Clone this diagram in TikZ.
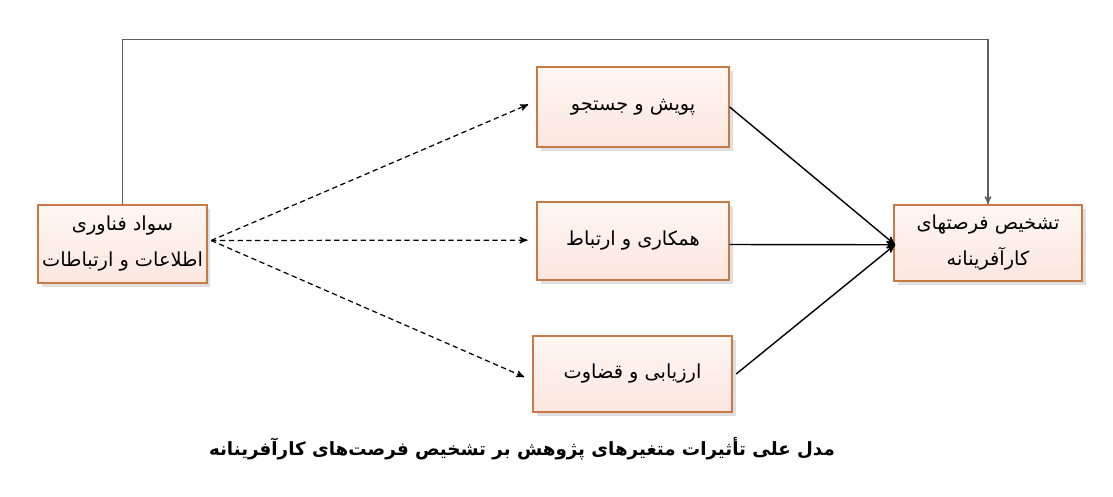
\documentclass[tikz,border=0pt]{standalone}
\usepackage{fontspec}
\setmainfont{DejaVu Sans}
\newfontfamily\arabicfont[Script=Arabic]{DejaVu Sans}
\TeXXeTstate=1
\usetikzlibrary{arrows}
\usetikzlibrary{shadows}
\definecolor{boxline}{HTML}{C77A45}
\definecolor{boxtop}{HTML}{FFF7F3}
\definecolor{boxbot}{HTML}{FCE6DF}
\definecolor{routeline}{HTML}{606060}

\begin{document}
\begin{tikzpicture}[x=0.02cm,y=-0.02cm,
 box/.style={draw=boxline, line width=0.8pt, top color=boxtop, bottom color=boxbot,
  drop shadow={shadow xshift=2pt, shadow yshift=-2pt, fill=black!25, opacity=.5},
  font=\arabicfont\fontsize{11}{20.5}\selectfont, align=center, inner sep=1pt},
 dashlink/.style={densely dashed, line width=0.7pt, ->, >=stealth'},
 solidlink/.style={line width=0.8pt, ->, >=stealth'}]
\useasboundingbox (0,0) rectangle (1113,497);
\node[box, minimum width=3.38cm, minimum height=1.56cm] (lit) at (122.5,244) {\beginR سواد فناوری\endR\\\beginR اطلاعات و ارتباطات\endR};
\node[box, minimum width=3.84cm, minimum height=1.6cm] (scan) at (633,107) {\beginR پویش و جستجو\endR};
\node[box, minimum width=3.84cm, minimum height=1.56cm] (coop) at (633,241) {\beginR همکاری و ارتباط\endR};
\node[box, minimum width=3.98cm, minimum height=1.52cm] (eval) at (632.5,374) {\beginR ارزیابی و قضاوت\endR};
\node[box, minimum width=3.76cm, minimum height=1.52cm] (opp) at (988,243) {\beginR تشخیص فرصتهای\endR\\\beginR کارآفرینانه\endR};
\coordinate (fork) at ([xshift=2,yshift=2]lit.east);
\coordinate (meet) at ([xshift=1,yshift=-1]opp.west);
\foreach \t/\dy in {scan/3.4,coop/0.5,eval/-3.7} {
 \draw[dashlink, shorten >=5] (fork) -- ([yshift=\dy]\t.west);
}
\draw[solidlink] (scan.east) -- (meet);
\draw[solidlink] ([yshift=-2]coop.east) -- (meet);
\draw[solidlink] ([xshift=2]eval.east) -- (meet);
\draw[routeline, line width=0.7pt, ->, >=stealth'] (lit.north) -- ++(0,-165) -| (opp.north);
\node[font=\arabicfont\bfseries\fontsize{10.4}{12}\selectfont] (cap) at (522,449) {\beginR مدل علی تأثیرات متغیرهای پژوهش بر تشخیص فرصت‌های کارآفرینانه\endR};
\end{tikzpicture}
\end{document}
